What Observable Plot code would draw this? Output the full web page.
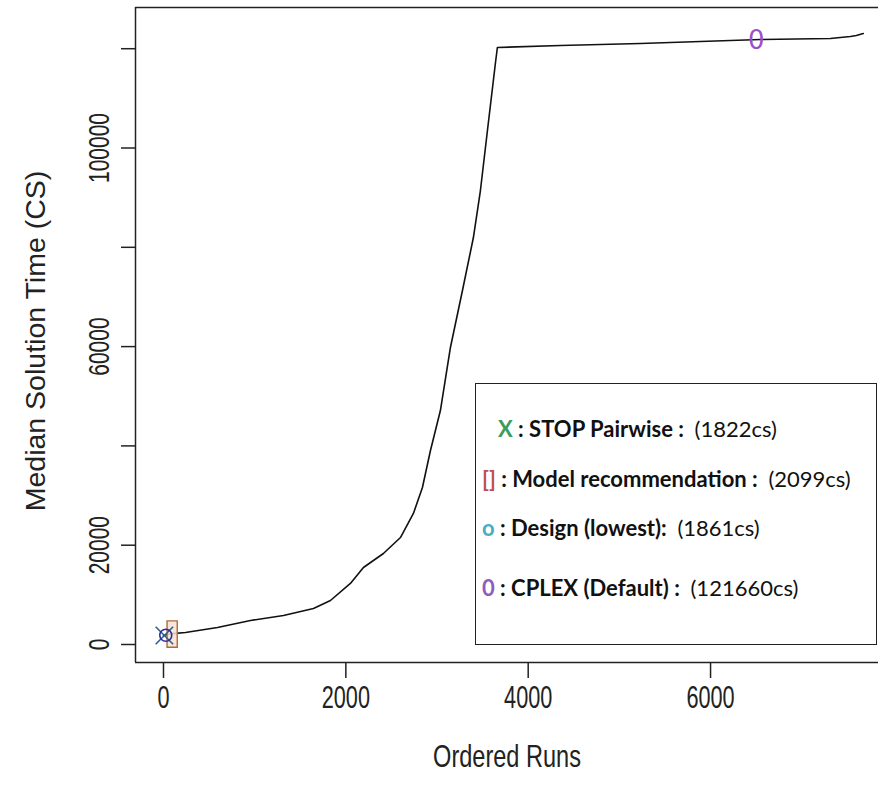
<!DOCTYPE html>
<html>
<head>
<meta charset="utf-8">
<script src="https://cdn.jsdelivr.net/npm/d3@7"></script>
<script src="https://cdn.jsdelivr.net/npm/@observablehq/plot@0.6"></script>
<style>
  html, body { margin: 0; padding: 0; background: #fff; }
  #wrap { position: relative; width: 878px; height: 797px; overflow: hidden; }
  #legend {
    position: absolute; left: 475px; top: 383px; width: 400px; height: 260px;
    border: 1.5px solid #222; background: #fff; box-sizing: content-box;
    font-family: Lato, "Open Sans", sans-serif; font-size: 22px; color: #111;
  }
  #legend .row { position: absolute; white-space: pre; font-weight: 700; line-height: 26px; }
  #legend .val { font-weight: 400; }
</style>
</head>
<body>
<div id="wrap"></div>
<script>
// ---- data ----
const runX = [0, 100, 241, 592, 954, 1316, 1645, 1831, 2050, 2193, 2412, 2599, 2741, 2840, 2928, 3037, 3147, 3279, 3399, 3476, 3553, 3640, 3662, 4353, 5230, 5888, 6546, 7314, 7533, 7599, 7675];
const runY = [1800, 2200, 2420, 3420, 4830, 5840, 7250, 8860, 12290, 15510, 18330, 21550, 26390, 31620, 39070, 47130, 59820, 71300, 81970, 91440, 103520, 117020, 120240, 120650, 121050, 121450, 121850, 122050, 122460, 122660, 123060];

const markerNames = ["STOP Pairwise", "Model recommendation", "Design (lowest)", "CPLEX (Default)"];
const markerX = [10, 95, 25, 6500];
const markerY = [1822, 2099, 1861, 121660];
const markerGlyphs = ["X", "[]", "o", "0"];
const markerColors = ["#2f5f8a", "#b06a3a", "#2b2f9a", "#9b4fc8"];
const legendColors = ["#3a9d5d", "#c0504d", "#4bacc6", "#8e5cc2"];
const legendLabels = ["STOP Pairwise :", "Model recommendation :", "Design (lowest):", "CPLEX (Default) :"];
const legendValues = ["(1822cs)", "(2099cs)", "(1861cs)", "(121660cs)"];

const xTicks = [0, 2000, 4000, 6000];
const yTicks = [0, 20000, 40000, 60000, 80000, 100000, 120000];
const yTickLabels = [0, 20000, 60000, 100000];

const xTitle = "Ordered Runs";
const yTitle = "Median Solution Time (CS)";

// ---- build ----
const curve = runX.map((x, i) => ({x, y: runY[i]}));
const markers = markerX.map((x, i) => ({name: markerNames[i], x, y: markerY[i]}));

const xDomain = [-307, 7842];
const yDomain = [-3625, 128300];

const tallRect = {
  draw(ctx, size) {
    const r = Math.sqrt(size / Math.PI);
    const w = r * 0.85, h = r * 2.2;
    ctx.rect(-w, -h, 2 * w, 2 * h);
  }
};

const axisFont = '"Liberation Sans", Arial, sans-serif';

const chart = Plot.plot({
  width: 878,
  height: 797,
  marginLeft: 135,
  marginRight: 0,
  marginTop: 7,
  marginBottom: 135,
  style: {background: "#fff", fontFamily: axisFont, color: "#222"},
  x: {domain: xDomain, ticks: xTicks},
  y: {domain: yDomain, ticks: yTicks},
  marks: [
    Plot.axisX({ticks: xTicks, tickSize: 16, tickFormat: () => "", label: null, stroke: "#222", strokeWidth: 1.5}),
    Plot.axisY({ticks: yTicks, tickSize: 14, tickFormat: () => "", label: null, stroke: "#222", strokeWidth: 1.5}),
    Plot.text(xTicks, {x: d => d, frameAnchor: "bottom", dy: 36, text: d => String(d), fontSize: 31, fill: "#222", lineAnchor: "middle", textAnchor: "middle", className: "cond70"}),
    Plot.text(yTickLabels, {y: d => d, frameAnchor: "left", dx: -36, rotate: -90, text: d => String(d), fontSize: 30, fill: "#222", textAnchor: "middle", lineAnchor: "middle", className: "cond70"}),
    Plot.text([xTitle], {frameAnchor: "bottom", dy: 95, text: d => d, fontSize: 31, fill: "#222", lineAnchor: "middle", textAnchor: "middle", className: "cond76"}),
    Plot.text([yTitle], {frameAnchor: "left", dx: -100, dy: 6, rotate: -90, text: d => d, fontSize: 28.5, fill: "#222", lineAnchor: "middle", textAnchor: "middle"}),
    Plot.ruleX([xDomain[0]], {stroke: "#222", strokeWidth: 1.5}),
    Plot.ruleY(yDomain, {stroke: "#222", strokeWidth: 1.5}),
    Plot.line(curve, {x: "x", y: "y", stroke: "#111", strokeWidth: 1.6}),
    Plot.dot([markers[1]], {x: "x", y: "y", r: 6, symbol: tallRect, stroke: markerColors[1], fill: "#f8e2d2", fillOpacity: 0.85, strokeWidth: 1.4}),
    Plot.dot([markers[0]], {x: "x", y: "y", r: 8, symbol: "times", stroke: markerColors[0], strokeWidth: 1.6}),
    Plot.dot([markers[2]], {x: "x", y: "y", r: 6, symbol: "circle", stroke: markerColors[2], strokeWidth: 1.6}),
    Plot.text([markers[3]], {x: "x", y: "y", text: () => markerGlyphs[3], fill: markerColors[3], fontSize: 26, fontFamily: "DejaVu Sans, sans-serif", lineAnchor: "middle"})
  ]
});

// condense axis text along its direction (reference text is narrow)
function condense(cls, s) {
  d3.select(chart).selectAll("g." + cls + " text").each(function () {
    const t = this.getAttribute("transform");
    if (t) this.setAttribute("transform", t + ` scale(${s},1)`);
    else {
      const x = +this.getAttribute("x") || 0;
      this.setAttribute("transform", `translate(${x},0) scale(${s},1) translate(${-x},0)`);
    }
  });
}
condense("cond70", 0.70);
condense("cond76", 0.76);

const wrap = document.getElementById("wrap");
wrap.appendChild(chart);

// legend (HTML overlay inside plot area)
const legend = document.createElement("div");
legend.id = "legend";
const rowTops = [32, 82, 131, 191];
const rowLefts = [22, 6, 6, 6];
legendLabels.forEach((lab, i) => {
  const row = document.createElement("div");
  row.className = "row";
  row.style.top = rowTops[i] + "px";
  row.style.left = rowLefts[i] + "px";
  const g = document.createElement("span");
  g.style.color = legendColors[i];
  g.textContent = markerGlyphs[i];
  row.appendChild(g);
  row.appendChild(document.createTextNode(" : " + lab + "  "));
  const v = document.createElement("span");
  v.className = "val";
  v.textContent = legendValues[i];
  row.appendChild(v);
  legend.appendChild(row);
});
wrap.appendChild(legend);
</script>
</body>
</html>
